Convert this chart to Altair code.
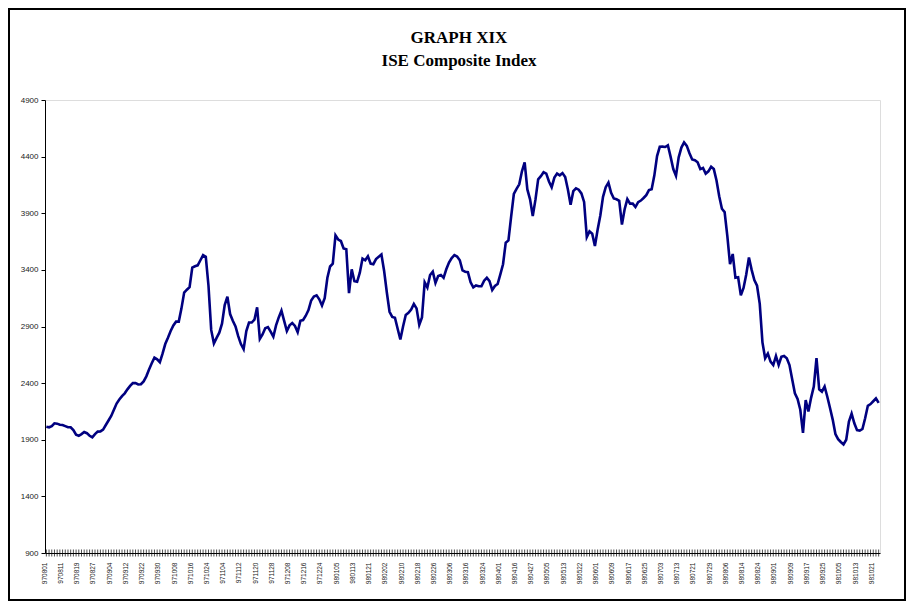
import altair as alt
import pandas as pd

# tick labels (every 6th trading day)
date_labels = ["970801", "970811", "970819", "970827", "970904", "970912", "970922", "970930",
               "971008", "971016", "971024", "971104", "971112", "971120", "971128", "971208",
               "971216", "971224", "980105", "980113", "980121", "980202", "980210", "980218",
               "980226", "980306", "980316", "980324", "980401", "980416", "980427", "980505",
               "980513", "980522", "980601", "980609", "980617", "980625", "980703", "980713",
               "980721", "980729", "980806", "980814", "980824", "980901", "980909", "980917",
               "980925", "981005", "981013", "981021"]

title_lines = ["GRAPH XIX", "ISE Composite Index"]

# ISE composite index, daily closes
index_values = [
    2015, 2010, 2020, 2045, 2042, 2032, 2030, 2020, 2010, 2010,
    1985, 1945, 1935, 1950, 1968, 1958, 1935, 1922, 1950, 1972,
    1974, 1990, 2030, 2070, 2110, 2165, 2220, 2255, 2285, 2310,
    2345, 2375, 2400, 2400, 2388, 2390, 2415, 2460, 2520, 2575,
    2625, 2610, 2585, 2660, 2745, 2800, 2860, 2910, 2943, 2943,
    3060, 3200, 3225, 3248, 3420, 3432, 3440, 3485, 3530, 3515,
    3260, 2870, 2750, 2800, 2845, 2925, 3090, 3163, 3010, 2950,
    2900, 2815, 2745, 2700, 2860, 2935, 2935, 2960, 3070, 2790,
    2830, 2885, 2895, 2855, 2810, 2910, 2980, 3040, 2950, 2860,
    2910, 2930, 2905, 2850, 2950, 2957, 2995, 3045, 3130, 3165,
    3175, 3140, 3085, 3150, 3330, 3430, 3455, 3705, 3668, 3655,
    3590, 3582, 3195, 3405, 3300, 3295, 3375, 3500, 3485, 3520,
    3455, 3450, 3495, 3515, 3535, 3390, 3200, 3030, 2985, 2978,
    2880, 2785, 2900, 3002, 3020, 3050, 3099, 3060, 2915, 2980,
    3290, 3245, 3355, 3385, 3285, 3345, 3355, 3330, 3405, 3465,
    3505, 3530, 3518, 3485, 3395, 3384, 3380, 3290, 3246, 3262,
    3255, 3255, 3305, 3330, 3300, 3222, 3258, 3275, 3360, 3450,
    3640, 3660, 3870, 4070, 4115, 4155, 4270, 4350, 4110, 4023,
    3875, 4020, 4200, 4227, 4262, 4250, 4180, 4130, 4215, 4250,
    4235, 4255, 4220, 4110, 3975, 4095, 4120, 4108, 4075, 4000,
    3690, 3740, 3720, 3610, 3755, 3880, 4045, 4130, 4170, 4080,
    4030, 4023, 4010, 3800, 3935, 4025, 3985, 3985, 3955, 3998,
    4012, 4035, 4060, 4105, 4112, 4235, 4405, 4487, 4488, 4485,
    4500, 4400, 4290, 4230, 4394, 4480, 4525, 4495, 4430, 4375,
    4368, 4350, 4290, 4300, 4250, 4270, 4310, 4290, 4190, 4050,
    3940, 3910, 3700, 3450, 3540, 3330, 3335, 3175, 3240, 3360,
    3510, 3400, 3310, 3260, 3100, 2760, 2620, 2660, 2590, 2560,
    2640, 2560, 2632, 2640, 2620, 2560, 2435, 2310, 2260, 2165,
    1960, 2250, 2150, 2270, 2370, 2620, 2345, 2325, 2370, 2280,
    2180, 2078, 1950, 1905, 1880, 1858, 1900, 2060, 2130, 2045,
    1985, 1980, 1995, 2090, 2200, 2215, 2240, 2265, 2225,
]

df = pd.DataFrame({"i": list(range(len(index_values))), "value": index_values})
n = len(index_values)

W, H = 835, 453
PAD_L, PAD_T, PAD_R, PAD_B = 37, 92, 27, 49

label_array = "[" + ",".join("'" + s + "'" for s in date_labels) + "]"

x_scale = alt.Scale(domain=[-0.5, n - 0.5], nice=False, zero=False)
x_axis = alt.Axis(values=list(range(0, n, 6)), title=None, ticks=False,
                  labelExpr=label_array + "[round(datum.value/6)]",
                  labelAngle=270, labelFont="Liberation Sans", labelFontSize=6.5,
                  labelColor="#222222", labelPadding=9, labelOffset=-2, labelOverlap=False,
                  domainColor="black", domainWidth=1, grid=False)

line = alt.Chart(df).mark_line(color="#000080", strokeWidth=2.6).encode(
    x=alt.X("i:Q", scale=x_scale, axis=x_axis),
    y=alt.Y("value:Q", scale=alt.Scale(domain=[900, 4900], nice=False, zero=False),
            axis=alt.Axis(values=list(range(900, 4901, 500)), format="d", title=None,
                          labelFont="Liberation Sans", labelFontSize=8, labelColor="#222222",
                          tickSize=4, tickColor="black", labelPadding=3,
                          domainColor="black", domainWidth=1, grid=False)),
)

ticks = alt.Chart(df).mark_tick(color="black", thickness=1, size=7, orient="vertical").encode(
    x=alt.X("i:Q", scale=x_scale, axis=x_axis),
    y=alt.value(H),
)

frame = alt.Chart(alt.Data(values=[{"a": 1}])).mark_rect(
    filled=False, stroke="black", strokeWidth=2
).encode(
    x=alt.value(1 - PAD_L), x2=alt.value(W + PAD_R - 2),
    y=alt.value(1 - PAD_T), y2=alt.value(H + PAD_B - 2),
)

def title_line(txt, ypos):
    return alt.Chart(pd.DataFrame({"t": [txt]})).mark_text(
        font="Liberation Serif", fontSize=17, fontWeight="bold", color="black",
        align="center", baseline="middle",
    ).encode(text="t:N", x=alt.value(414), y=alt.value(ypos))

title1 = title_line(title_lines[0], -62)
title2 = title_line(title_lines[1], -39)

chart = alt.layer(frame, ticks, line, title1, title2).properties(
    width=W, height=H,
    autosize=alt.AutoSizeParams(type="none"),
    padding={"left": PAD_L, "top": PAD_T, "right": PAD_R, "bottom": PAD_B},
).configure_view(
    stroke="#808080", strokeWidth=1
).configure(background="white")

chart.save("out.html", embed_options={"renderer": "svg", "actions": False})
